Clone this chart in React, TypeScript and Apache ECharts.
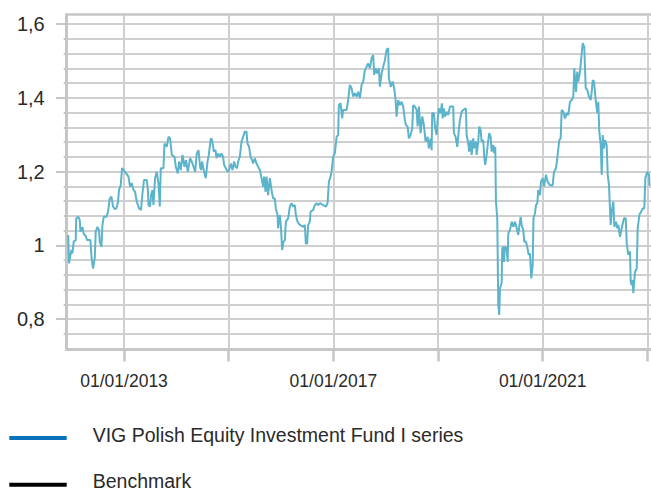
import React, { useEffect, useRef } from "react";
import * as echarts from "echarts";

// Time in decimal years
const fundYears = [
  2011.933, 2011.948, 2011.994, 2012.013, 2012.038, 2012.077, 2012.086, 2012.128, 2012.153, 2012.166,
  2012.205, 2012.229, 2012.268, 2012.293, 2012.358, 2012.377, 2012.407, 2012.44, 2012.459, 2012.491,
  2012.522, 2012.535, 2012.568, 2012.587, 2012.612, 2012.663, 2012.694, 2012.727, 2012.759, 2012.79,
  2012.822, 2012.855, 2012.885, 2012.904, 2012.937, 2012.962, 2013.019, 2013.084, 2013.115, 2013.147,
  2013.18, 2013.21, 2013.243, 2013.287, 2013.325, 2013.352, 2013.382, 2013.434, 2013.453, 2013.467,
  2013.497, 2013.516, 2013.543, 2013.562, 2013.593, 2013.625, 2013.658, 2013.683, 2013.702, 2013.753,
  2013.772, 2013.816, 2013.849, 2013.88, 2013.912, 2013.964, 2013.989, 2014.027, 2014.052, 2014.084,
  2014.117, 2014.155, 2014.185, 2014.218, 2014.262, 2014.294, 2014.338, 2014.358, 2014.39, 2014.423,
  2014.453, 2014.472, 2014.491, 2014.53, 2014.562, 2014.595, 2014.619, 2014.658, 2014.683, 2014.715,
  2014.748, 2014.767, 2014.797, 2014.83, 2014.862, 2014.893, 2014.912, 2014.945, 2014.977, 2015.008,
  2015.04, 2015.073, 2015.103, 2015.13, 2015.161, 2015.18, 2015.212, 2015.245, 2015.275, 2015.308,
  2015.34, 2015.359, 2015.39, 2015.417, 2015.447, 2015.466, 2015.499, 2015.531, 2015.562, 2015.595,
  2015.627, 2015.658, 2015.677, 2015.704, 2015.723, 2015.753, 2015.786, 2015.818, 2015.849, 2015.881,
  2015.9, 2015.933, 2015.944, 2015.977, 2015.996, 2016.021, 2016.048, 2016.073, 2016.092, 2016.136,
  2016.168, 2016.201, 2016.231, 2016.264, 2016.283, 2016.315, 2016.359, 2016.422, 2016.455, 2016.474,
  2016.499, 2016.518, 2016.551, 2016.564, 2016.614, 2016.646, 2016.679, 2016.709, 2016.742, 2016.805,
  2016.857, 2016.889, 2016.914, 2016.946, 2016.965, 2016.996, 2017.029, 2017.061, 2017.092, 2017.105,
  2017.138, 2017.168, 2017.187, 2017.252, 2017.283, 2017.315, 2017.348, 2017.378, 2017.411, 2017.444,
  2017.474, 2017.507, 2017.539, 2017.57, 2017.602, 2017.635, 2017.665, 2017.698, 2017.73, 2017.761,
  2017.78, 2017.807, 2017.837, 2017.87, 2017.889, 2017.922, 2017.952, 2017.985, 2018.017, 2018.048,
  2018.061, 2018.099, 2018.132, 2018.162, 2018.189, 2018.208, 2018.239, 2018.271, 2018.304, 2018.334,
  2018.367, 2018.386, 2018.419, 2018.443, 2018.476, 2018.507, 2018.526, 2018.558, 2018.591, 2018.61,
  2018.635, 2018.667, 2018.698, 2018.73, 2018.763, 2018.801, 2018.826, 2018.858, 2018.878, 2018.889,
  2018.922, 2018.941, 2018.973, 2018.992, 2019.017, 2019.05, 2019.074, 2019.088, 2019.113, 2019.132,
  2019.164, 2019.195, 2019.227, 2019.29, 2019.304, 2019.336, 2019.367, 2019.4, 2019.419, 2019.451,
  2019.482, 2019.533, 2019.547, 2019.577, 2019.596, 2019.623, 2019.642, 2019.673, 2019.692, 2019.725,
  2019.738, 2019.768, 2019.788, 2019.814, 2019.833, 2019.864, 2019.883, 2019.902, 2019.929, 2019.96,
  2019.979, 2020.006, 2020.025, 2020.055, 2020.074, 2020.094, 2020.107, 2020.132, 2020.151, 2020.17,
  2020.183, 2020.216, 2020.227, 2020.246, 2020.26, 2020.279, 2020.311, 2020.331, 2020.342, 2020.375,
  2020.407, 2020.438, 2020.47, 2020.503, 2020.533, 2020.552, 2020.579, 2020.598, 2020.629, 2020.648,
  2020.68, 2020.705, 2020.732, 2020.757, 2020.782, 2020.809, 2020.824, 2020.853, 2020.872, 2020.897,
  2020.916, 2020.948, 2020.967, 2021.0, 2021.025, 2021.063, 2021.095, 2021.139, 2021.191, 2021.216,
  2021.254, 2021.279, 2021.317, 2021.344, 2021.363, 2021.394, 2021.426, 2021.459, 2021.489, 2021.522,
  2021.554, 2021.585, 2021.604, 2021.637, 2021.661, 2021.68, 2021.713, 2021.746, 2021.765, 2021.795,
  2021.822, 2021.853, 2021.885, 2021.918, 2021.937, 2021.956, 2021.981, 2022.013, 2022.044, 2022.063,
  2022.082, 2022.109, 2022.128, 2022.147, 2022.172, 2022.191, 2022.223, 2022.243, 2022.267, 2022.3,
  2022.319, 2022.35, 2022.369, 2022.401, 2022.426, 2022.445, 2022.478, 2022.51, 2022.554, 2022.587,
  2022.606, 2022.636, 2022.669, 2022.682, 2022.702, 2022.721, 2022.732, 2022.765, 2022.797, 2022.816,
  2022.847, 2022.88, 2022.912, 2022.942, 2022.962, 2023.0, 2023.033, 2023.042,
];

const fundValues = [
  1.028, 0.951, 0.987, 0.978, 1.01, 1.014, 1.073, 1.077, 1.068, 1.037,
  1.049, 1.031, 1.025, 1.014, 1.014, 0.969, 0.937, 0.965, 1.037, 1.05,
  1.041, 1.01, 0.996, 1.055, 1.077, 1.077, 1.091, 1.127, 1.132, 1.105,
  1.098, 1.1, 1.118, 1.15, 1.163, 1.209, 1.199, 1.186, 1.159, 1.168,
  1.15, 1.145, 1.118, 1.1, 1.096, 1.141, 1.177, 1.177, 1.154, 1.109,
  1.105, 1.136, 1.15, 1.109, 1.182, 1.199, 1.168, 1.105, 1.209, 1.209,
  1.276, 1.267, 1.294, 1.29, 1.245, 1.24, 1.213, 1.195, 1.227, 1.204,
  1.245, 1.213, 1.231, 1.199, 1.236, 1.227, 1.209, 1.199, 1.249, 1.258,
  1.213, 1.204, 1.227, 1.199, 1.182, 1.227, 1.245, 1.29, 1.285, 1.254,
  1.258, 1.236, 1.249, 1.24, 1.249, 1.24, 1.218, 1.209, 1.199, 1.204,
  1.222, 1.204, 1.227, 1.213, 1.209, 1.227, 1.24, 1.281, 1.294, 1.308,
  1.308, 1.276, 1.267, 1.24, 1.231, 1.222, 1.236, 1.222, 1.213, 1.204,
  1.182, 1.159, 1.186, 1.145, 1.186, 1.136, 1.182, 1.15, 1.127, 1.127,
  1.1, 1.082, 1.046, 1.082, 1.055, 0.987, 1.01, 1.014, 1.064, 1.073,
  1.105, 1.114, 1.105, 1.109, 1.082, 1.064, 1.055, 1.05, 1.055, 1.005,
  1.005, 1.055, 1.064, 1.091, 1.096, 1.109, 1.114, 1.109, 1.114, 1.109,
  1.105, 1.114, 1.172, 1.186, 1.199, 1.24, 1.249, 1.294, 1.299, 1.38,
  1.385, 1.344, 1.367, 1.367, 1.394, 1.435, 1.426, 1.403, 1.412, 1.403,
  1.416, 1.399, 1.435, 1.444, 1.475, 1.484, 1.493, 1.48, 1.507, 1.516,
  1.462, 1.48, 1.466, 1.48, 1.43, 1.466, 1.484, 1.502, 1.53, 1.534,
  1.453, 1.43, 1.444, 1.426, 1.394, 1.349, 1.394, 1.38, 1.389, 1.376,
  1.34, 1.326, 1.322, 1.29, 1.299, 1.317, 1.38, 1.376, 1.367, 1.322,
  1.376, 1.304, 1.349, 1.326, 1.281, 1.294, 1.263, 1.29, 1.258, 1.358,
  1.358, 1.322, 1.299, 1.34, 1.371, 1.358, 1.385, 1.344, 1.371, 1.349,
  1.362, 1.353, 1.376, 1.376, 1.304, 1.294, 1.267, 1.317, 1.34, 1.362,
  1.367, 1.371, 1.299, 1.276, 1.254, 1.285, 1.245, 1.29, 1.263, 1.281,
  1.245, 1.281, 1.322, 1.313, 1.281, 1.285, 1.24, 1.218, 1.245, 1.285,
  1.304, 1.294, 1.254, 1.272, 1.249, 1.267, 1.118, 1.073, 0.838, 0.811,
  0.883, 0.897, 0.992, 0.996, 0.955, 0.996, 0.992, 0.955, 1.032, 1.041,
  1.064, 1.05, 1.064, 1.046, 1.028, 1.05, 1.077, 1.055, 1.041, 1.01,
  1.01, 0.996, 0.974, 0.978, 0.91, 0.946, 1.073, 1.087, 1.109, 1.114,
  1.15, 1.136, 1.172, 1.182, 1.159, 1.191, 1.172, 1.163, 1.163, 1.199,
  1.209, 1.236, 1.285, 1.29, 1.367, 1.362, 1.344, 1.358, 1.353, 1.389,
  1.394, 1.403, 1.48, 1.416, 1.471, 1.444, 1.471, 1.521, 1.548, 1.538,
  1.426, 1.421, 1.403, 1.394, 1.416, 1.448, 1.444, 1.394, 1.358, 1.389,
  1.308, 1.272, 1.191, 1.299, 1.263, 1.285, 1.272, 1.191, 1.163, 1.055,
  1.091, 1.118, 1.05, 1.064, 1.046, 1.055, 1.023, 1.046, 1.073, 1.073,
  1.005, 0.974, 0.983, 0.901, 0.892, 0.906, 0.87, 0.928, 0.937, 1.046,
  1.082, 1.091, 1.1, 1.1, 1.182, 1.199, 1.191, 1.161,
];

const benchmarkValues: number[] = [];

const xTickValues = [2013, 2015, 2017, 2019, 2021, 2023];
const xLabelValues = [2013, 2017, 2021];
const yGridValues = [
  0.76, 0.8, 0.84, 0.88, 0.92, 0.96, 1.0, 1.04, 1.08, 1.12, 1.16,
  1.2, 1.24, 1.28, 1.32, 1.36, 1.4, 1.44, 1.48, 1.52, 1.56, 1.6,
];
const yLabelValues = [0.8, 1.0, 1.2, 1.4, 1.6];

const FUND_NAME = "VIG Polish Equity Investment Fund I series";
const BENCH_NAME = "Benchmark";

const X_MIN = 2011.904;
const X_MAX = 2023.07;
const Y_MIN = 0.7173;
const Y_MAX = 1.6258;

const FONT = "'Liberation Sans', Arial, sans-serif";
const TEXT_COLOR = "#2a2a2a";
const GRID_COLOR = "#cfcfcf";
const AXIS_COLOR = "#c6c6c6";

// legend swatch: a 57.4x4 bar sitting at the bottom of an 11px-high box
const LEGEND_ICON = "path://M0,7L57.4,7L57.4,11L0,11Z M0,0L0,0";

export default function App() {
  const ref = useRef<HTMLDivElement>(null);

  useEffect(() => {
    if (!ref.current) return;
    const chart = echarts.init(ref.current, undefined, { renderer: "svg" });
    const fundData = fundYears.map((t, i) => [t, fundValues[i]]);

    chart.setOption({
      animation: false,
      backgroundColor: "#ffffff",
      grid: { left: 66.7, right: 0, top: 14.5, bottom: 141.5, containLabel: false },
      legend: {
        orient: "vertical",
        left: 9.3,
        top: 424.5,
        width: 600,
        height: 100,
        itemWidth: 57.4,
        itemHeight: 11,
        itemGap: 26.7,
        icon: LEGEND_ICON,
        selectedMode: false,
        padding: 0,
        textStyle: {
          fontSize: 19.5,
          lineHeight: 20,
          color: TEXT_COLOR,
          fontFamily: FONT,
          padding: [0, 0, 0, 21],
        },
        data: [
          { name: FUND_NAME, itemStyle: { color: "#0a72bb" } },
          { name: BENCH_NAME, itemStyle: { color: "#000000" } },
        ],
      },
      xAxis: [
        {
          type: "value",
          position: "bottom",
          min: X_MIN,
          max: X_MAX,
          axisLine: { show: true, onZero: false, lineStyle: { color: AXIS_COLOR, width: 3 } },
          axisTick: {
            show: true,
            customValues: xTickValues,
            length: 12,
            lineStyle: { color: AXIS_COLOR, width: 2.5 },
          },
          axisLabel: {
            customValues: xLabelValues,
            formatter: (v: number) => "01/01/" + Math.round(v),
            margin: 22,
            fontSize: 17.5,
            color: TEXT_COLOR,
            fontFamily: FONT,
          },
          splitLine: { show: true, lineStyle: { color: GRID_COLOR, width: 2 } },
        },
        {
          type: "value",
          position: "top",
          min: X_MIN,
          max: X_MAX,
          axisLine: { show: true, onZero: false, lineStyle: { color: AXIS_COLOR, width: 2.5 } },
          axisTick: { show: false },
          axisLabel: { show: false },
          splitLine: { show: false },
        },
      ],
      yAxis: [
        {
          type: "value",
          position: "left",
          min: Y_MIN,
          max: Y_MAX,
          axisLine: { show: true, onZero: false, lineStyle: { color: AXIS_COLOR, width: 3 } },
          axisTick: {
            show: true,
            customValues: yGridValues,
            length: 3,
            lineStyle: { color: AXIS_COLOR, width: 2 },
          },
          axisLabel: { show: false },
          splitLine: { show: true, lineStyle: { color: GRID_COLOR, width: 2 } },
        },
        {
          type: "value",
          position: "left",
          min: Y_MIN,
          max: Y_MAX,
          axisLine: { show: false },
          axisTick: {
            show: true,
            customValues: yLabelValues,
            length: 10.7,
            lineStyle: { color: AXIS_COLOR, width: 2 },
          },
          axisLabel: {
            customValues: yLabelValues,
            formatter: (v: number) => String(Math.round(v * 10) / 10).replace(".", ","),
            margin: 22,
            fontSize: 20,
            color: TEXT_COLOR,
            fontFamily: FONT,
          },
          splitLine: { show: false },
        },
      ],
      series: [
        {
          name: FUND_NAME,
          type: "line",
          xAxisIndex: 0,
          yAxisIndex: 0,
          data: fundData,
          showSymbol: false,
          symbol: "none",
          itemStyle: { color: "#0a72bb" },
          lineStyle: { color: "#5bb4cb", width: 2 },
          z: 5,
        },
        {
          name: BENCH_NAME,
          type: "line",
          xAxisIndex: 0,
          yAxisIndex: 0,
          data: benchmarkValues,
          showSymbol: false,
          symbol: "none",
          itemStyle: { color: "#000000" },
          lineStyle: { color: "#000000", width: 2 },
        },
      ],
    });

    return () => chart.dispose();
  }, []);

  return (
    <div
      ref={ref}
      style={{ position: "absolute", left: 0, top: 0, width: 651, height: 491 }}
    />
  );
}
